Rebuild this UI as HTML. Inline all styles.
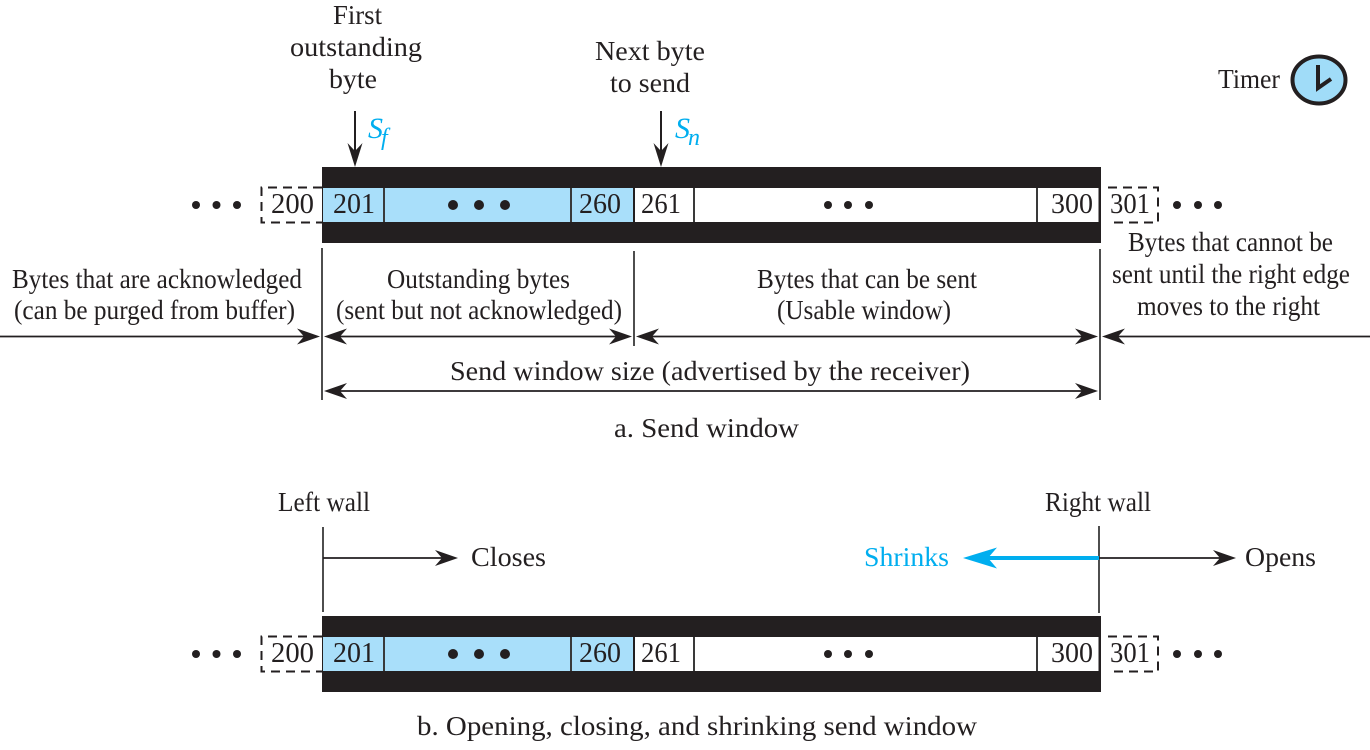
<!DOCTYPE html>
<html><head><meta charset="utf-8"><style>
html,body{margin:0;padding:0;background:#fff}
svg{display:block}
text{font-family:"Liberation Serif",serif;font-size:27.500px;fill:#231f20}
.n{font-size:28.500px}
.b{fill:#00aeef}
</style></head><body>
<svg width="1370" height="750" viewBox="0 0 1370 750" xmlns="http://www.w3.org/2000/svg">
<defs>
<path id="r" d="M0 0L-23-8L-16 0L-23 8Z" fill="#231f20"/>
<g id="win">
<rect x="322" y="167" width="779" height="76" fill="#231f20"/>
<rect x="323" y="188" width="310" height="34" fill="#a9dffa"/>
<rect x="635" y="188" width="463.500" height="34" fill="#fff"/>
<path d="M384 188V222M571 188V222M694 188V222M1037 188V222" stroke="#3a3a3a" stroke-width="2"/>
<path d="M322 187.500H261.500V222.500H322M1108 187.500H1158V222.500H1108" fill="none" stroke="#231f20" stroke-width="2" stroke-dasharray="9 6"/>
<g fill="#231f20">
<circle cx="196" cy="205" r="4"/><circle cx="216.500" cy="205" r="4"/><circle cx="237" cy="205" r="4"/>
<circle cx="453" cy="205" r="5"/><circle cx="479" cy="205" r="5"/><circle cx="505" cy="205" r="5"/>
<circle cx="828" cy="205" r="4"/><circle cx="848" cy="205" r="4"/><circle cx="869" cy="205" r="4"/>
<circle cx="1177" cy="205" r="4"/><circle cx="1198" cy="205" r="4"/><circle cx="1218" cy="205" r="4"/>
</g>
<text class="n" x="271" y="213" textLength="43" lengthAdjust="spacingAndGlyphs">200</text>
<text class="n" x="333" y="213" textLength="42" lengthAdjust="spacingAndGlyphs">201</text>
<text class="n" x="579" y="213" textLength="42" lengthAdjust="spacingAndGlyphs">260</text>
<text class="n" x="641" y="213" textLength="40" lengthAdjust="spacingAndGlyphs">261</text>
<text class="n" x="1051" y="213" textLength="42" lengthAdjust="spacingAndGlyphs">300</text>
<text class="n" x="1110" y="213" textLength="40" lengthAdjust="spacingAndGlyphs">301</text>
</g>
</defs>

<use href="#win"/>
<use href="#win" y="449"/>

<text x="333" y="24" textLength="49" lengthAdjust="spacingAndGlyphs">First</text>
<text x="290" y="56" textLength="132" lengthAdjust="spacingAndGlyphs">outstanding</text>
<text x="329" y="88" textLength="48" lengthAdjust="spacingAndGlyphs">byte</text>
<text x="595" y="60" textLength="110" lengthAdjust="spacingAndGlyphs">Next byte</text>
<text x="610" y="92" textLength="80" lengthAdjust="spacingAndGlyphs">to send</text>
<text x="1218" y="88" textLength="62" lengthAdjust="spacingAndGlyphs">Timer</text>

<ellipse cx="1319" cy="80" rx="26.500" ry="23.500" fill="#a0dcf8" stroke="#231f20" stroke-width="4"/>
<path d="M1318 65V88L1331 79" fill="none" stroke="#231f20" stroke-width="4"/>

<path d="M355 111V152M661 111V152" stroke="#231f20" stroke-width="2"/>
<path d="M355 167L347.500 143L355 151L362.500 143Z M661 167L653.500 143L661 151L668.500 143Z" fill="#231f20"/>
<text class="b" x="368" y="138" font-style="italic" style="font-size:30px">S</text>
<text class="b" x="381" y="145" font-style="italic" style="font-size:24px">f</text>
<text class="b" x="675" y="138" font-style="italic" style="font-size:30px">S</text>
<text class="b" x="688" y="145" font-style="italic" style="font-size:24px">n</text>

<text x="12" y="288" textLength="290" lengthAdjust="spacingAndGlyphs">Bytes that are acknowledged</text>
<text x="14" y="319" textLength="281" lengthAdjust="spacingAndGlyphs">(can be purged from buffer)</text>
<text x="387" y="288" textLength="183" lengthAdjust="spacingAndGlyphs">Outstanding bytes</text>
<text x="336" y="319" textLength="286" lengthAdjust="spacingAndGlyphs">(sent but not acknowledged)</text>
<text x="757" y="288" textLength="220" lengthAdjust="spacingAndGlyphs">Bytes that can be sent</text>
<text x="777" y="319" textLength="174" lengthAdjust="spacingAndGlyphs">(Usable window)</text>
<text x="1128" y="251" textLength="205" lengthAdjust="spacingAndGlyphs">Bytes that cannot be</text>
<text x="1112" y="283" textLength="238" lengthAdjust="spacingAndGlyphs">sent until the right edge</text>
<text x="1137" y="315" textLength="183" lengthAdjust="spacingAndGlyphs">moves to the right</text>
<text x="450" y="380" textLength="520" lengthAdjust="spacingAndGlyphs">Send window size (advertised by the receiver)</text>
<text x="614" y="437" textLength="185" lengthAdjust="spacingAndGlyphs">a. Send window</text>

<path d="M322 248V400M634 251V346M1100 249V400" stroke="#3a3a3a" stroke-width="1.800" fill="none"/>
<path d="M0 336.500H312M332 336.500H622M646 336.500H1090M1110 336.500H1370M332 391H1090" stroke="#231f20" stroke-width="1.800" fill="none"/>
<use href="#r" transform="translate(320,336.500)"/>
<use href="#r" transform="translate(324,336.500) scale(-1,1)"/>
<use href="#r" transform="translate(632,336.500)"/>
<use href="#r" transform="translate(636,336.500) scale(-1,1)"/>
<use href="#r" transform="translate(1098,336.500)"/>
<use href="#r" transform="translate(1102,336.500) scale(-1,1)"/>
<use href="#r" transform="translate(324,391) scale(-1,1)"/>
<use href="#r" transform="translate(1098,391)"/>

<text x="278" y="511" textLength="92" lengthAdjust="spacingAndGlyphs">Left wall</text>
<text x="1045" y="511" textLength="106" lengthAdjust="spacingAndGlyphs">Right wall</text>
<text x="471" y="566" textLength="75" lengthAdjust="spacingAndGlyphs">Closes</text>
<text class="b" x="864" y="566" textLength="85" lengthAdjust="spacingAndGlyphs">Shrinks</text>
<text x="1245" y="566" textLength="71" lengthAdjust="spacingAndGlyphs">Opens</text>
<text x="417" y="735" textLength="560" lengthAdjust="spacingAndGlyphs">b. Opening, closing, and shrinking send window</text>

<path d="M323 527V612M1099 526V613" stroke="#3a3a3a" stroke-width="1.800" fill="none"/>
<path d="M323 558H445M1099 558H1222" stroke="#231f20" stroke-width="1.800" fill="none"/>
<use href="#r" transform="translate(458,558)"/>
<use href="#r" transform="translate(1236,558)"/>
<path d="M1099 558H985" stroke="#00aeef" stroke-width="4" fill="none"/>
<path d="M963 558L997 547.500L988 558L997 568.500Z" fill="#00aeef"/>
</svg>
</body></html>
